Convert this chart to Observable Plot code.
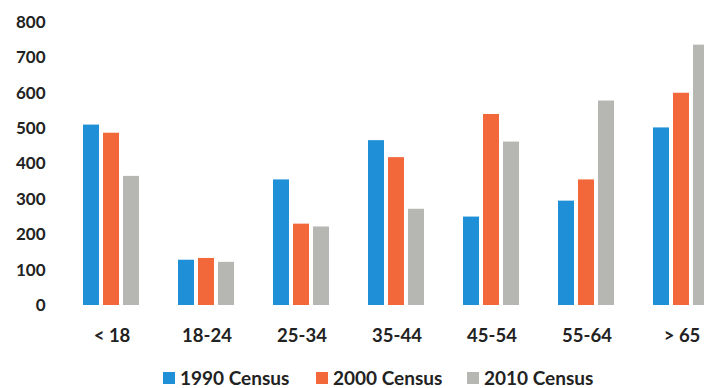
<!DOCTYPE html>
<html>
<head>
<meta charset="utf-8">
<script src="https://cdn.jsdelivr.net/npm/d3@7"></script>
<script src="https://cdn.jsdelivr.net/npm/@observablehq/plot@0.6"></script>
<style>
  html, body { margin: 0; padding: 0; background: #fff; overflow: hidden; width: 704px; height: 388px; }
  #legend { height: 26px; font-family: Lato, "Open Sans", sans-serif; font-weight: 700; font-size: 19px; color: #222; position: relative; }
  #legend .item { position: absolute; top: 5px; display: flex; align-items: center; line-height: 22px; }
  #legend .sw { width: 12px; height: 12px; margin-right: 5px; }
</style>
</head>
<body>
<div id="chart"></div>
<div id="legend"></div>
<script>
const categories = ["< 18", "18-24", "25-34", "35-44", "45-54", "55-64", "> 65"];
const seriesNames = ["1990 Census", "2000 Census", "2010 Census"];
const census1990 = [510, 128, 355, 466, 250, 295, 502];
const census2000 = [487, 133, 230, 418, 540, 355, 600];
const census2010 = [365, 122, 222, 272, 462, 578, 736];
const colors = ["#1f8fd8", "#f2683a", "#b6b6b2"];
const yTicks = [0, 100, 200, 300, 400, 500, 600, 700, 800];

const seriesValues = [census1990, census2000, census2010];
const data = [];
categories.forEach((c, i) => {
  seriesNames.forEach((s, j) => {
    data.push({age: c, series: s, value: seriesValues[j][i]});
  });
});

const chart = Plot.plot({
  width: 730,
  height: 362,
  marginLeft: 62,
  marginRight: 0,
  marginTop: 22,
  marginBottom: 57,
  style: {fontFamily: "Lato, 'Open Sans', sans-serif", fontSize: "17px", fontWeight: 700, color: "#222", background: "#fff", maxWidth: "none"},
  fx: {domain: categories, paddingInner: 0.4, paddingOuter: 0.2, label: null},
  x: {domain: seriesNames, axis: null, paddingInner: 0.185, paddingOuter: 0},
  y: {domain: [0, 800], ticks: yTicks, tickSize: 0, tickPadding: 38, label: null},
  color: {domain: seriesNames, range: colors},
  marks: [
    Plot.barY(data, {fx: "age", x: "series", y: "value", fill: "series"}),
    Plot.axisFx({anchor: "bottom", tickSize: 0, tickPadding: 23, fontSize: 18.5, label: null})
  ]
});
document.getElementById("chart").appendChild(chart);

const legend = document.getElementById("legend");
const legendX = [163, 316, 467];
seriesNames.forEach((s, j) => {
  const item = document.createElement("div");
  item.className = "item";
  item.style.left = legendX[j] + "px";
  const sw = document.createElement("span");
  sw.className = "sw";
  sw.style.background = colors[j];
  const t = document.createElement("span");
  t.textContent = s;
  item.appendChild(sw);
  item.appendChild(t);
  legend.appendChild(item);
});
</script>
</body>
</html>
